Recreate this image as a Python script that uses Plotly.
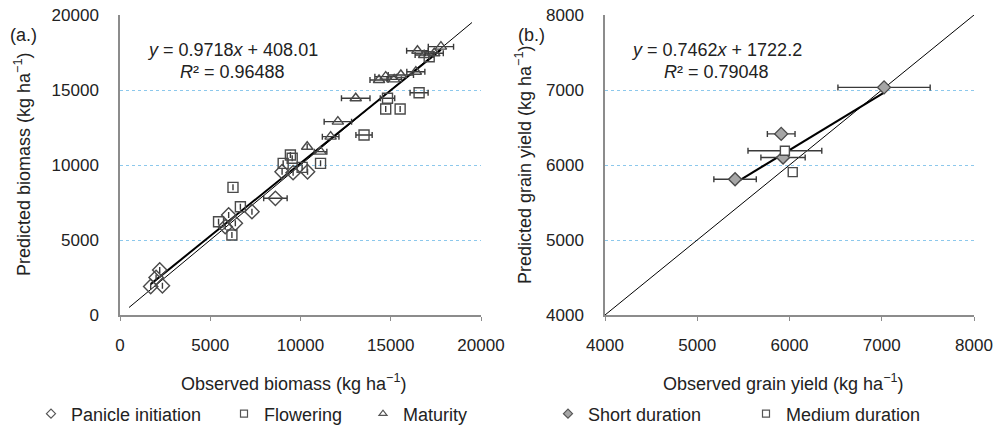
import plotly.graph_objects as go

# ---------- Panel (a) data: biomass ----------
pi_obs = [1700, 2000, 2200, 2350, 5830, 6020, 6390, 7310, 8610, 8980, 9590, 10390]
pi_pred = [1900, 2500, 3000, 1950, 5890, 6670, 6110, 6890, 7780, 9550, 9490, 9550]
pi_err = [0, 0, 0, 0, 0, 0, 0, 0, 650, 0, 0, 0]

fl_obs = [5460, 6200, 6260, 6670, 9040, 9440, 9540, 10090, 11110, 13520, 14720, 15520, 14820, 16570, 17130]
fl_pred = [6220, 5330, 8510, 7220, 10110, 10670, 10450, 9840, 10110, 12000, 13730, 13730, 14450, 14820, 17220]
fl_err = [0, 0, 0, 0, 0, 0, 0, 0, 0, 450, 0, 0, 400, 500, 0]

ma_obs = [10370, 11110, 11670, 12070, 13060, 14350, 14720, 15190, 15560, 16390, 16480, 16850, 17410, 17780]
ma_pred = [11220, 10890, 11890, 12890, 14450, 15670, 15890, 15710, 16000, 16220, 17620, 17330, 17450, 17890]
ma_err = [0, 350, 460, 760, 790, 500, 600, 400, 700, 500, 600, 500, 500, 700]

reg_a = (0.9718, 408.01)
one_a = [500, 19500]
ticks_a = [0, 5000, 10000, 15000, 20000]

# ---------- Panel (b) data: grain yield ----------
sd_obs = [5410, 5910, 5930, 7025]
sd_pred = [5810, 6415, 6100, 7035]
sd_err = [230, 150, 240, 500]

md_obs = [5950, 6035]
md_pred = [6190, 5905]
md_err = [400, 0]

reg_b = (0.7462, 1722.2)
one_b = [4000, 8000]
ticks_b = [4000, 5000, 6000, 7000, 8000]

FONT = "Liberation Sans, Arial, sans-serif"
LINE = "#3a3a3a"
TXT = "#222"
W, H, T, B = 1001, 425, 15, 110
PH = H - T - B


def py(p):  # pixel row -> paper y
    return (H - B - p) / PH


def px(p):
    return p / W


fig = go.Figure()


def pts(x, y, err, symbol, size, fill, xa, ya):
    fig.add_trace(go.Scatter(
        x=x, y=y, mode="markers", xaxis=xa, yaxis=ya, showlegend=False,
        marker=dict(symbol=symbol, size=size, color=fill,
                    line=dict(color="#4a4a4a", width=1.4)),
        error_x=dict(type="data", array=err, visible=True, color=LINE,
                     thickness=1.4, width=3),
    ))


def legend_item(name, symbol, fill, legend, xa, ya):
    fig.add_trace(go.Scatter(
        x=[None], y=[None], mode="markers", name=name, legend=legend,
        xaxis=xa, yaxis=ya,
        marker=dict(symbol=symbol, size=7, color=fill, line=dict(color="#555", width=1.2)),
    ))


def line(x0, x1, m, b, width, xa, ya):
    xs = [x0, x1]
    fig.add_trace(go.Scatter(x=xs, y=[m * v + b for v in xs], mode="lines",
                             line=dict(color="black", width=width),
                             xaxis=xa, yaxis=ya, showlegend=False, hoverinfo="skip"))


CLEAR = "rgba(255,255,255,0)"
# panel a
all_a = pi_obs + fl_obs + ma_obs
line(one_a[0], one_a[1], 1, 0, 1, "x", "y")
line(min(all_a), max(all_a), reg_a[0], reg_a[1], 2, "x", "y")
pts(pi_obs, pi_pred, pi_err, "diamond", 11, CLEAR, "x", "y")
pts(fl_obs, fl_pred, fl_err, "square", 10, CLEAR, "x", "y")
pts(ma_obs, ma_pred, ma_err, "triangle-up", 10, CLEAR, "x", "y")

# panel b
line(one_b[0], one_b[1], 1, 0, 1, "x2", "y2")
line(min(sd_obs), max(sd_obs), reg_b[0], reg_b[1], 2, "x2", "y2")
pts(sd_obs, sd_pred, sd_err, "diamond", 10, "#a6a6a6", "x2", "y2")
pts(md_obs, md_pred, md_err, "square", 9, "white", "x2", "y2")

legend_item("Panicle initiation", "diamond", "white", "legend", "x", "y")
legend_item("Flowering", "square", "white", "legend2", "x", "y")
legend_item("Maturity", "triangle-up", "white", "legend3", "x", "y")
legend_item("Short duration", "diamond", "#a6a6a6", "legend4", "x2", "y2")
legend_item("Medium duration", "square", "white", "legend5", "x2", "y2")

axis_common = dict(showline=True, linecolor="#8c8c8c", linewidth=1.5,
                   tickfont=dict(family=FONT, size=17, color=TXT),
                   zeroline=False, fixedrange=True, automargin=False)
xgrid = dict(showgrid=False, ticks="outside", ticklen=4, tickcolor="#8c8c8c", ticklabelstandoff=10)
ygrid = dict(showgrid=True, gridcolor="#8cc8ec", griddash="dot", gridwidth=1, ticks="",
             ticklabelstandoff=16)


def leg(text_start):
    return dict(orientation="h", xref="container", yref="container",
                x=(text_start - 42) / W, y=1 - 414 / H, xanchor="left", yanchor="middle",
                itemsizing="trace", font=dict(family=FONT, size=18, color=TXT),
                bgcolor="rgba(0,0,0,0)")


fig.update_layout(
    width=W, height=H,
    margin=dict(l=0, r=0, t=T, b=B, autoexpand=False),
    paper_bgcolor="white", plot_bgcolor="white",
    font=dict(family=FONT, size=18, color=TXT),
    xaxis=dict(domain=[px(120), px(481)], range=[0, 20000], tickvals=ticks_a,
               ticktext=[str(v) for v in ticks_a], anchor="y", **axis_common, **xgrid),
    yaxis=dict(domain=[0, 1], range=[0, 20000], tickvals=ticks_a,
               ticktext=[str(v) for v in ticks_a], anchor="x", **axis_common, **ygrid),
    xaxis2=dict(domain=[px(605), px(974)], range=[4000, 8000], tickvals=ticks_b,
                ticktext=[str(v) for v in ticks_b], anchor="y2", **axis_common, **xgrid),
    yaxis2=dict(domain=[0, 1], range=[4000, 8000], tickvals=ticks_b,
                ticktext=[str(v) for v in ticks_b], anchor="x2", **axis_common, **ygrid),
    legend=leg(73), legend2=leg(266), legend3=leg(405), legend4=leg(590), legend5=leg(788),
    showlegend=True,
)

ann = [
    dict(text="(a.)", x=px(8), y=py(35), xanchor="left"),
    dict(text="(b.)", x=px(516), y=py(35), xanchor="left"),
    dict(text="<i>y</i> = 0.9718<i>x</i> + 408.01", x=px(232), y=py(50), xanchor="center"),
    dict(text="<i>R</i>² = 0.96488", x=px(232), y=py(72), xanchor="center"),
    dict(text="<i>y</i> = 0.7462<i>x</i> + 1722.2", x=px(716), y=py(50), xanchor="center"),
    dict(text="<i>R</i>² = 0.79048", x=px(716), y=py(72), xanchor="center"),
    dict(text="Observed biomass (kg ha<sup>−1</sup>)", x=px(293), y=py(382), xanchor="center"),
    dict(text="Observed grain yield (kg ha<sup>−1</sup>)", x=px(783), y=py(382), xanchor="center"),
    dict(text="Predicted biomass (kg ha<sup>−1</sup>)", x=px(22), y=py(165), xanchor="center", textangle=-90),
    dict(text="Predicted grain yield (kg ha<sup>−1</sup>)", x=px(523), y=py(165), xanchor="center", textangle=-90),
]
for a in ann:
    fig.add_annotation(xref="paper", yref="paper", yanchor="middle", showarrow=False,
                       font=dict(family=FONT, size=18, color=TXT), **a)

fig.write_html("out.html")
